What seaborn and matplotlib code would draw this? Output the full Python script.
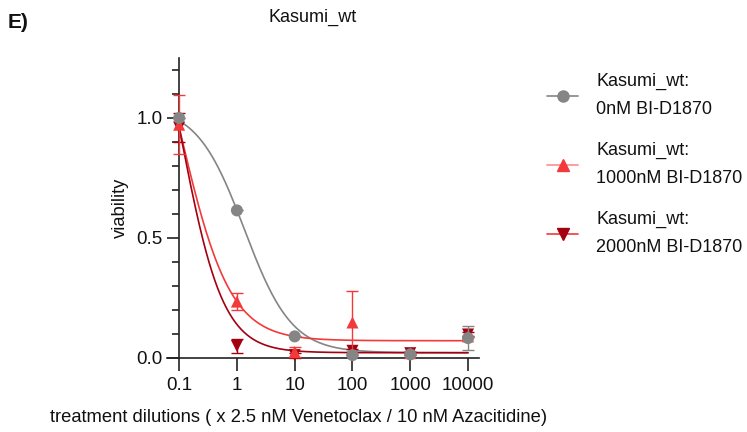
import numpy as np
import pandas as pd
import matplotlib
matplotlib.use("Agg")
import matplotlib.pyplot as plt
from matplotlib.lines import Line2D
from matplotlib.ticker import FixedLocator, MultipleLocator, NullFormatter
import seaborn as sns

sns.set_style("ticks")
plt.rcParams["font.family"] = ["Liberation Sans", "DejaVu Sans"]

# ---- data ----
doses = [0.1, 1, 10, 100, 1000, 10000]
dose_labels = ["0.1", "1", "10", "100", "1000", "10000"]
series_names = ["Kasumi_wt:\n0nM BI-D1870",
                "Kasumi_wt:\n1000nM BI-D1870",
                "Kasumi_wt:\n2000nM BI-D1870"]
via_0nM = [1.00, 0.615, 0.090, 0.012, 0.015, 0.083]
err_0nM = [0.0, 0.0, 0.0, 0.0, 0.0, 0.05]
via_1000nM = [0.972, 0.235, 0.025, 0.148, 0.020, 0.090]
err_1000nM = [0.122, 0.035, 0.022, 0.130, 0.008, 0.0]
via_2000nM = [0.960, 0.050, 0.012, 0.030, 0.020, 0.098]
err_2000nM = [0.060, 0.030, 0.010, 0.006, 0.006, 0.010]
# fitted 4PL parameters (top, bottom, logEC50, hill)
fit_0nM = (1.05, 0.022, 0.129, 1.058)
fit_1000nM = (1.83, 0.072, -0.99, 1.0)
fit_2000nM = (1.79, 0.022, -0.955, 1.2)

colors = ["#858585", "#F23A3A", "#A30010"]
legend_line_colors = ["#858585", "#FF8C8C", "#F23A3A"]
markers = ["o", "^", "v"]

def four_pl(x, p):
    top, bottom, logec, h = p
    return bottom + (top - bottom) / (1 + 10 ** ((np.log10(x) - logec) * h))

vias = [via_0nM, via_1000nM, via_2000nM]
errs = [err_0nM, err_1000nM, err_2000nM]
fits = [fit_0nM, fit_1000nM, fit_2000nM]

pts = pd.concat([pd.DataFrame({"dose": doses, "viability": v, "err": e, "series": n})
                 for v, e, n in zip(vias, errs, series_names)], ignore_index=True)
xs = np.logspace(-1, 4, 300)
curves = pd.concat([pd.DataFrame({"dose": xs, "viability": four_pl(xs, f), "series": n})
                    for f, n in zip(fits, series_names)], ignore_index=True)

fig = plt.figure(figsize=(7.47, 4.32), dpi=100)
ax = fig.add_axes([167 / 747, 1 - 358 / 432, 312 / 747, 300 / 432])

palette = dict(zip(series_names, colors))
sns.lineplot(data=curves, x="dose", y="viability", hue="series", palette=palette,
             ax=ax, legend=False, linewidth=1.2, zorder=2)

order = [2, 1, 0]
for i in order:
    n = series_names[i]
    sub = pts[pts["series"] == n]
    ax.errorbar(sub["dose"], sub["viability"], yerr=sub["err"], fmt="none",
                ecolor=colors[i], elinewidth=1.0, capsize=4, capthick=1.0,
                zorder=3 + (2 - i), clip_on=False)
    sns.scatterplot(data=sub, x="dose", y="viability", color=colors[i],
                    marker=markers[i], s=75, edgecolor="none", ax=ax,
                    legend=False, zorder=4 + (2 - i), clip_on=False)

ax.set_xscale("log")
ax.set_xlim(10 ** -1.21, 10 ** 4.19)
ax.set_ylim(0, 1.25)
ax.spines["left"].set_position(("data", 0.1))
ax.spines["right"].set_visible(False)
ax.spines["top"].set_visible(False)
for s in ["left", "bottom"]:
    ax.spines[s].set_linewidth(1.2)
    ax.spines[s].set_color("#222222")

ax.xaxis.set_major_locator(FixedLocator(doses))
ax.set_xticklabels(dose_labels)
ax.xaxis.set_minor_locator(FixedLocator([]))
ax.yaxis.set_major_locator(FixedLocator([0, 0.5, 1.0]))
ax.yaxis.set_minor_locator(MultipleLocator(0.1))
ax.yaxis.set_minor_formatter(NullFormatter())
ax.set_yticklabels(["0.0", "0.5", "1.0"])
ax.tick_params(axis="both", which="major", length=9, width=1.2, labelsize=13.5,
               color="#222222", labelcolor="#111111", pad=3)
ax.tick_params(axis="y", which="minor", length=5, width=1.2, color="#222222")
ax.tick_params(axis="x", which="major", pad=5)

ax.set_xlabel("")
fig.text(299 / 747, 1 - 418 / 432, "treatment dilutions ( x 2.5 nM Venetoclax / 10 nM Azacitidine)",
         fontsize=13.2, ha="center", va="center", color="#111111")
ax.set_ylabel("viability", fontsize=13.2, labelpad=5, color="#111111")

fig.text(313 / 747, 1 - 17 / 432, "Kasumi_wt", fontsize=13, ha="center", va="center",
         color="#111111")
fig.text(8 / 747, 1 - 22 / 432, "E)", fontsize=15, fontweight="heavy", ha="left",
         va="center", color="#111111")

handles = [Line2D([0], [0], color=legend_line_colors[i], lw=1.2, marker=markers[i],
                  markersize=8, markerfacecolor=colors[i], markeredgecolor=colors[i])
           for i in range(3)]
leg = fig.legend(handles, series_names, loc="upper left",
                 bbox_to_anchor=(531 / 747, 1 - 57 / 432), frameon=False,
                 fontsize=13.0, handlelength=1.7, handletextpad=1.0, labelspacing=1.31)
for t in leg.get_texts():
    t.set_linespacing(1.84)
    t.set_color("#111111")

fig.savefig("out.png", dpi=100)
